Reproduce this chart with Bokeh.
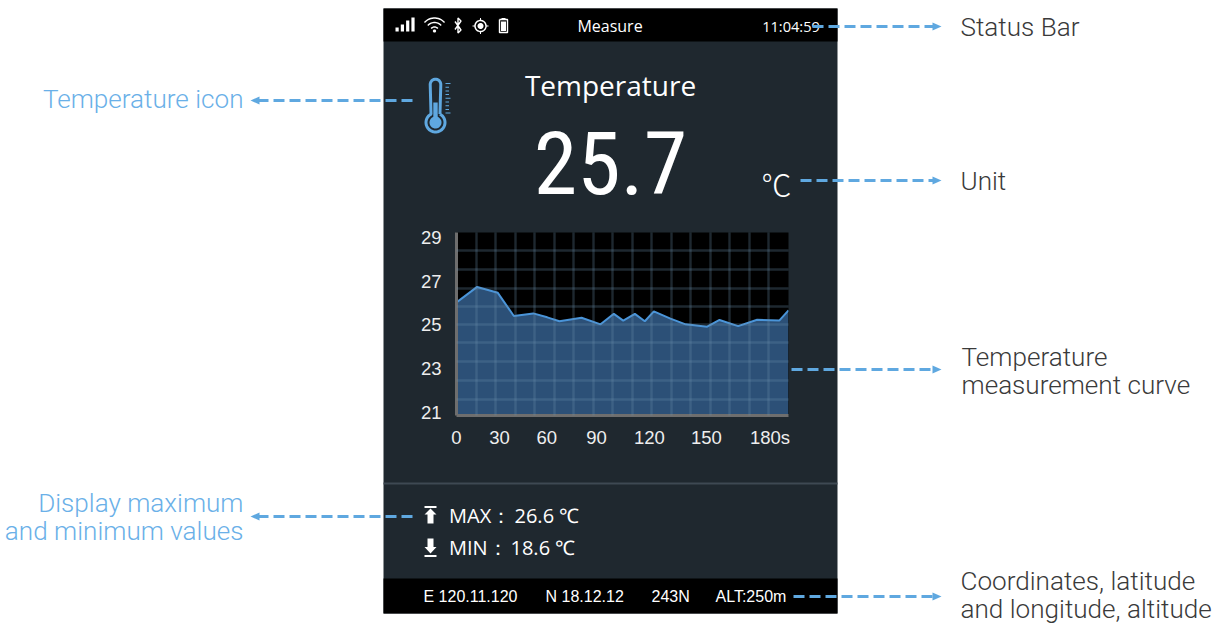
import numpy as np
from bokeh.plotting import figure
from bokeh.layouts import column
from bokeh.models import Range1d, FixedTicker
from bokeh.core.properties import value
from bokeh.embed import file_html
from bokeh.resources import INLINE

# ---- chart data -----
seconds = [0, 11.2, 22.4, 31.1, 41.6, 49.2, 55.8, 67.8, 78.1, 85.3, 90.4, 96.7, 102.1, 107, 116, 124.2, 135.9, 142.6, 152.7, 163, 175.1, 180]
temperature = [26.03, 26.74, 26.47, 25.41, 25.53, 25.35, 25.17, 25.33, 25.03, 25.51, 25.2, 25.51, 25.17, 25.62, 25.29, 25.03, 24.92, 25.23, 24.95, 25.24, 25.21, 25.67]
y_ticks = [21, 23, 25, 27, 29]
x_tick_pos = [0, 23.3, 49, 75.9, 104.6, 135.5, 170]
x_tick_labels = ["0", "30", "60", "90", "120", "150", "180s"]
grid_y = [28.41, 27.55, 26.68, 25.86, 25.0, 24.18, 23.32, 22.45, 21.59]
grid_x_cells = 17

PANEL = "#1f282f"
BLUE = "#5fa8e0"
DARK = "#3a3a3a"
LBLUE = "#6ab0e8"
LF = "Roboto Light"
CS = 26.1
Y_LOW, Y_HIGH = 20.864, 29.227
PAGE_W, PAGE_H = 1219, 624
CH_L, CH_R, CH_T, CH_B = 408, 790, 224, 450


def box(f, l, r, t, b, color):
    f.quad(left=[l], right=[r], top=[t], bottom=[b], fill_color=color, line_color=None)


def poly(f, xs, ys, fill="white"):
    f.patch(xs, ys, fill_color=fill, line_color=None)


def stroke(f, xs, ys, color="white", lw=1.4):
    f.line(xs, ys, line_color=color, line_width=lw)


def label(f, x, y, text, size, color="white", font="Open Sans", align="left"):
    f.text([x], [y], text=[text], text_font=value(font), text_font_size=f"{size}px", text_color=color,
           text_align=align, text_baseline="middle")


def dash(f, x0, x1, y):
    s = 1 if x1 > x0 else -1
    f.line([x0, x1 - s * 6], [y, y], line_color=BLUE, line_width=3, line_dash="11 5")
    f.patch([x1, x1 - s * 9, x1 - s * 9], [y, y - 4, y + 4], fill_color=BLUE, line_color=None)


def circle_pts(cx, cy, r, a0=0, a1=360, n=40):
    t = np.radians(np.linspace(a0, a1, n))
    return list(cx + r * np.cos(t)), list(cy + r * np.sin(t))


def arc_band(f, cx, cy, r, w, a0, a1):
    ox, oy = circle_pts(cx, cy, r + w / 2, a0, a1, 16)
    ix, iy = circle_pts(cx, cy, r - w / 2, a1, a0, 16)
    poly(f, ox + ix, oy + iy)


# ==== page sheet, everything but the chart =====
bg = figure(width=PAGE_W, height=PAGE_H, x_range=Range1d(0, PAGE_W), y_range=Range1d(PAGE_H, 0),
            x_axis_type=None, y_axis_type=None, output_backend="svg", toolbar_location=None,
            min_border=0, background_fill_color="white", border_fill_color="white", outline_line_color=None)
bg.grid.visible = False
box(bg, 383, 837, 8, 613, PANEL)
box(bg, 383, 837, 8, 41, "black")
box(bg, 383, 837, 578, 613, "black")
box(bg, 383, 837, 482, 484, "#3e4953")

label(bg, 609.5, 25.5, "Measure", 16, align="center")
label(bg, 790.5, 25.5, "11:04:59", 14.6, align="center")
label(bg, 610, 84.5, "Temperature", 28, align="center")
label(bg, 610, 162, "25.7", 88, align="center", font="'Roboto Condensed','Roboto Light',Roboto")
label(bg, 776, 182, "℃", 30, align="center", font="'Noto Sans CJK SC Light','Noto Sans CJK SC'")
label(bg, 448.5, 514.5, "MAX：", 20)
label(bg, 514, 514.5, "26.6 ℃", 20)
label(bg, 448.5, 546.5, "MIN：", 20)
label(bg, 510, 546.5, "18.6 ℃", 20)
label(bg, 423, 596, "E 120.11.120", 16, font="Liberation Sans")
label(bg, 545, 596, "N 18.12.12", 16, font="Liberation Sans")
label(bg, 651, 596, "243N", 16, font="Liberation Sans")
label(bg, 715, 596, "ALT:250m", 16, font="Liberation Sans")

label(bg, 960, 26, "Status Bar", CS, DARK, LF)
label(bg, 243, 98, "Temperature icon", CS, LBLUE, LF, "right")
label(bg, 960, 180, "Unit", CS, DARK, LF)
label(bg, 961, 356, "Temperature", CS, DARK, LF)
label(bg, 961, 384, "measurement curve", CS, DARK, LF)
label(bg, 243, 502, "Display maximum", CS, LBLUE, LF, "right")
label(bg, 243, 530, "and minimum values", CS, LBLUE, LF, "right")
label(bg, 960, 580, "Coordinates, latitude", CS, DARK, LF)
label(bg, 960, 608, "and longitude, altitude", CS, DARK, LF)
dash(bg, 812, 941, 26)
dash(bg, 412, 250, 100)
dash(bg, 800, 941, 180)
dash(bg, 791, 941, 369)
dash(bg, 412, 250, 516)
dash(bg, 793, 941, 596)

# status icons
for i, h in enumerate((4, 7, 11, 14)):
    l = 395 + i * 5.3
    poly(bg, [l, l + 3.2, l + 3.2, l], [31, 31, 31 - h, 31 - h])
for r in (4.5, 9, 13.5):
    arc_band(bg, 434, 31, r, 1.4, 222, 318)
cx, cy = circle_pts(434, 30.5, 1.6)
poly(bg, cx, cy)
stroke(bg, [454.5, 460.5, 457.5, 457.5, 460.5, 454.5], [21, 29.5, 32.5, 17.5, 20.5, 29])
cx, cy = circle_pts(480, 25.5, 5.5)
stroke(bg, cx, cy, lw=1.5)
cx, cy = circle_pts(480, 25.5, 3)
poly(bg, cx, cy)
for a, b, c, d in ((472, 474.5, 25, 26), (485.5, 488, 25, 26), (479.5, 480.5, 17.5, 20), (479.5, 480.5, 31, 33.5)):
    poly(bg, [a, b, b, a], [c, c, d, d])
stroke(bg, [499, 507, 507, 499, 499], [19, 19, 32, 32, 19])
poly(bg, [501, 505, 505, 501], [17.5, 17.5, 19, 19])
poly(bg, [500.5, 505.5, 505.5, 500.5], [21, 21, 30.5, 30.5])

# thermometer icon
ax, ay = circle_pts(435, 122, 9.5, -62, 242, 40)
bx, by = circle_pts(435, 84, 5.3, 180, 360, 14)
stroke(bg, ax + bx + ax[:1], ay + by + ay[:1], BLUE, 3)
cx, cy = circle_pts(435, 122, 6)
poly(bg, cx, cy, BLUE)
poly(bg, [432.8, 437.2, 437.2, 432.8], [102, 102, 118, 118], BLUE)
for i in range(9):
    w = 5 if i % 4 == 0 else 3.5
    y = 82.5 + i * 3.7
    poly(bg, [445, 445 + w, 445 + w, 445], [y, y, y + 1, y + 1], BLUE)

# max / min icons
poly(bg, [424, 436, 436, 424], [505.5, 505.5, 507.5, 507.5])
poly(bg, [430, 436, 433, 433, 427, 427, 424], [508, 514, 514, 523, 523, 514, 514])
poly(bg, [424, 436, 436, 424], [554.5, 554.5, 556.5, 556.5])
poly(bg, [430, 436, 433, 433, 427, 427, 424], [553, 546.5, 546.5, 538, 538, 546.5, 546.5])

# ==== the chart, laid over the page sheet =====
chart = figure(width=CH_R - CH_L, height=CH_B - CH_T, x_range=Range1d(0, 180), y_range=Range1d(Y_LOW, Y_HIGH),
               output_backend="svg", toolbar_location=None,
               min_border_left=456 - CH_L, min_border_right=CH_R - 788, min_border_top=232 - CH_T, min_border_bottom=CH_B - 416,
               background_fill_color="black", border_fill_color=None, outline_line_color=None)
chart.varea(seconds, y1=[Y_LOW] * len(seconds), y2=temperature, fill_color="#2c5077", fill_alpha=1)
chart.line(seconds, temperature, line_color="#4a94d8", line_width=2)
for g, ticks in ((chart.xgrid[0], list(np.arange(1, grid_x_cells) * 180 / grid_x_cells)), (chart.ygrid[0], grid_y)):
    g.ticker = FixedTicker(ticks=ticks)
    g.grid_line_color = "#6b8fab"
    g.grid_line_alpha = 0.28
    g.grid_line_width = 2.4
    g.level = "guide"
for ax_, ticks in ((chart.yaxis[0], y_ticks), (chart.xaxis[0], x_tick_pos)):
    ax_.ticker = FixedTicker(ticks=ticks)
    ax_.axis_line_color = "#6e6e6e"
    ax_.axis_line_width = 3
    ax_.major_tick_line_color = None
    ax_.minor_tick_line_color = None
    ax_.major_label_text_color = "#eeeeee"
    ax_.major_label_text_font = "Liberation Sans"
    ax_.major_label_text_font_size = "18.5px"
    ax_.major_label_standoff = 9
chart.xaxis[0].major_label_overrides = dict(zip(x_tick_pos, x_tick_labels))
chart.xaxis[0].major_label_standoff = 5

page = column(column(bg), column(chart, margin=(CH_T - PAGE_H, 0, 0, CH_L)), spacing=0)
open("out.html", "w").write(file_html(page, INLINE))
